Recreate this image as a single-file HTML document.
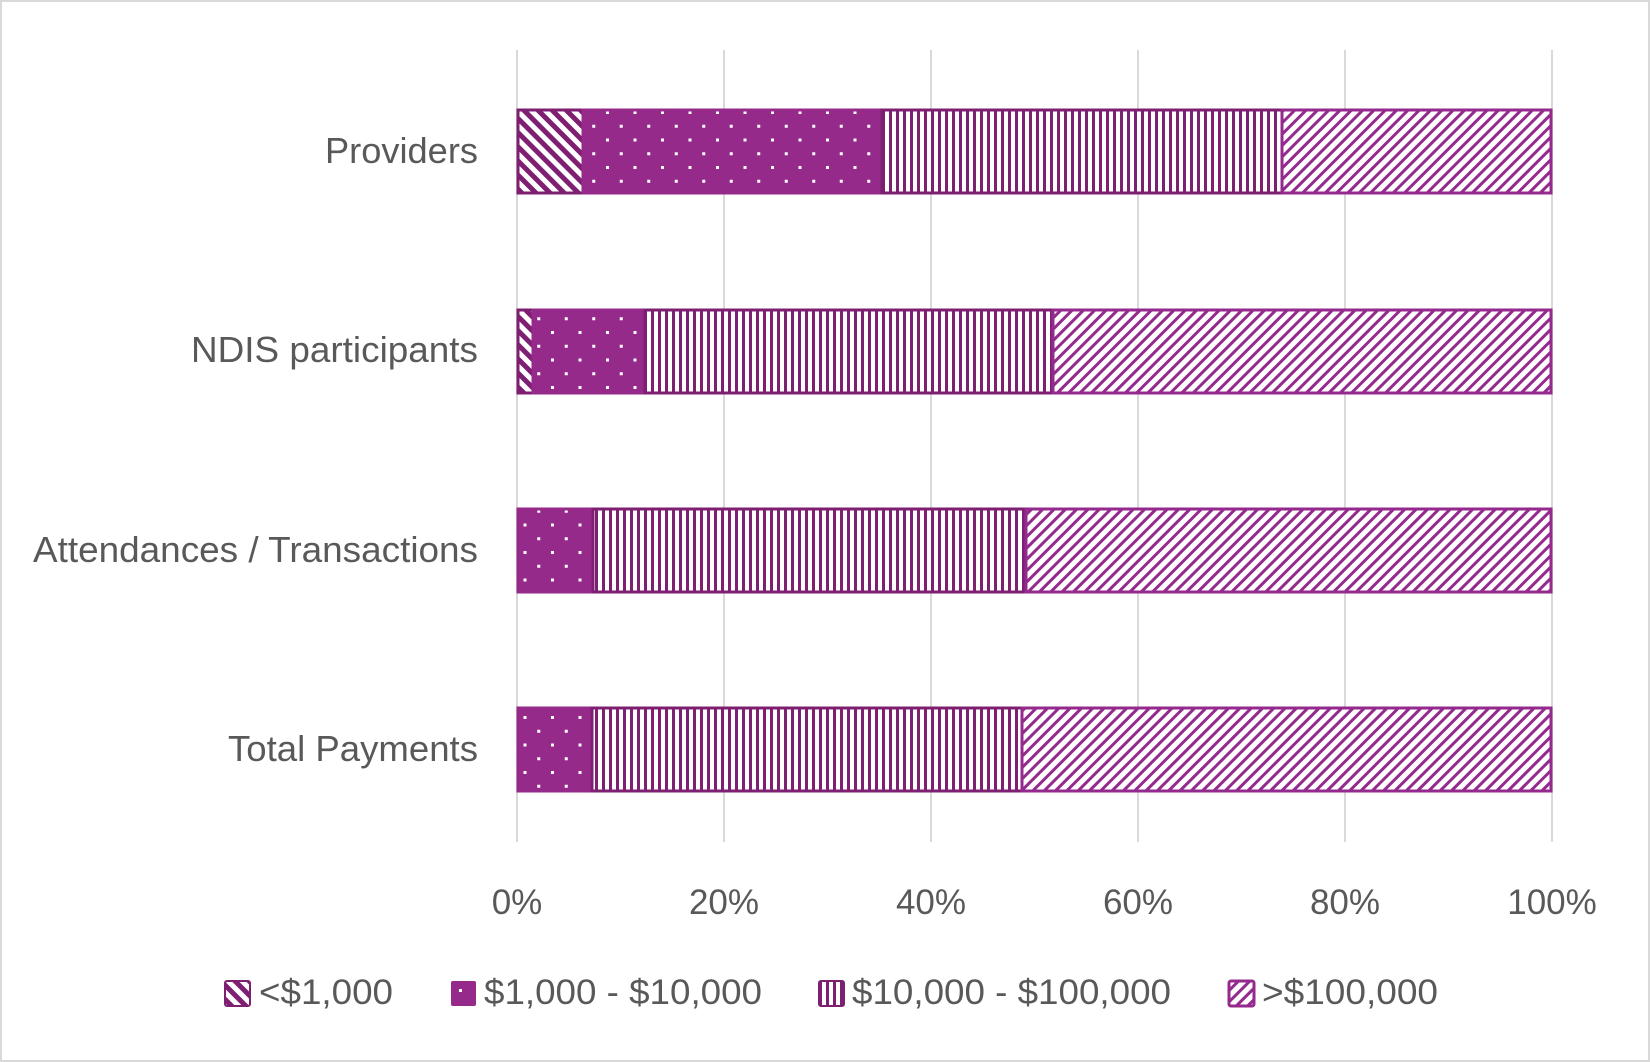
<!DOCTYPE html>
<html><head><meta charset="utf-8"><style>
html,body{margin:0;padding:0;background:#fff}
svg{display:block}
text{font-family:"Liberation Sans",sans-serif;fill:#595959}
</style></head><body>
<svg width="1650" height="1062" viewBox="0 0 1650 1062" xmlns="http://www.w3.org/2000/svg">
<defs>
<pattern id="pDown" width="10" height="10" patternUnits="userSpaceOnUse" patternTransform="rotate(-45)">
<rect width="10" height="10" fill="#fff"/><rect width="5" height="10" fill="#7e1f72"/></pattern>
<pattern id="pDot" width="27.5" height="27.5" patternUnits="userSpaceOnUse">
<rect width="27.5" height="27.5" fill="#952a8a"/>
<rect x="1" y="1" width="3" height="3" fill="#fff"/><rect x="14.75" y="14.75" width="3" height="3" fill="#fff"/></pattern>
<pattern id="pVert" width="7" height="10" patternUnits="userSpaceOnUse">
<rect width="7" height="10" fill="#fff"/><rect width="3" height="10" fill="#7e1f72"/></pattern>
<pattern id="pUp" width="8" height="8" patternUnits="userSpaceOnUse" patternTransform="rotate(45)">
<rect width="8" height="8" fill="#fff"/><rect width="3" height="8" fill="#952a8e"/></pattern>
</defs>
<rect x="1" y="1" width="1648" height="1060" fill="#fff" stroke="#d9d9d9" stroke-width="2"/>
<g stroke="#d9d9d9" stroke-width="2">
<line x1="517" y1="50" x2="517" y2="842"/><line x1="724" y1="50" x2="724" y2="842"/>
<line x1="931" y1="50" x2="931" y2="842"/><line x1="1138" y1="50" x2="1138" y2="842"/>
<line x1="1345" y1="50" x2="1345" y2="842"/><line x1="1552" y1="50" x2="1552" y2="842"/>
</g>
<g stroke-width="3">
<rect x="518" y="110" width="65" height="83" fill="url(#pDown)" stroke="#7e1f72"/>
<rect x="583" y="110" width="299" height="83" fill="url(#pDot)" stroke="#952a8a"/>
<rect x="882" y="110" width="400" height="83" fill="url(#pVert)" stroke="#7e1f72"/>
<rect x="1282" y="110" width="269" height="83" fill="url(#pUp)" stroke="#952a8e"/>
<rect x="518" y="310" width="15" height="83" fill="url(#pDown)" stroke="#7e1f72"/>
<rect x="533" y="310" width="112" height="83" fill="url(#pDot)" stroke="#952a8a"/>
<rect x="645" y="310" width="408" height="83" fill="url(#pVert)" stroke="#7e1f72"/>
<rect x="1053" y="310" width="498" height="83" fill="url(#pUp)" stroke="#952a8e"/>
<rect x="518" y="509" width="75" height="83" fill="url(#pDot)" stroke="#952a8a"/>
<rect x="593" y="509" width="433" height="83" fill="url(#pVert)" stroke="#7e1f72"/>
<rect x="1026" y="509" width="525" height="83" fill="url(#pUp)" stroke="#952a8e"/>
<rect x="518" y="708" width="74" height="83" fill="url(#pDot)" stroke="#952a8a"/>
<rect x="592" y="708" width="430" height="83" fill="url(#pVert)" stroke="#7e1f72"/>
<rect x="1022" y="708" width="529" height="83" fill="url(#pUp)" stroke="#952a8e"/>
</g>
<g font-size="36" text-anchor="end">
<text x="478" y="163" textLength="153" lengthAdjust="spacingAndGlyphs">Providers</text>
<text x="478" y="362" textLength="287" lengthAdjust="spacingAndGlyphs">NDIS participants</text>
<text x="478" y="562" textLength="445" lengthAdjust="spacingAndGlyphs">Attendances / Transactions</text>
<text x="478" y="761" textLength="250" lengthAdjust="spacingAndGlyphs">Total Payments</text>
</g>
<g font-size="35" text-anchor="middle">
<text x="517" y="914">0%</text><text x="724" y="914">20%</text><text x="931" y="914">40%</text>
<text x="1138" y="914">60%</text><text x="1345" y="914">80%</text><text x="1552" y="914">100%</text>
</g>
<g font-size="35">
<rect x="225" y="981" width="25" height="25" rx="2" fill="url(#pDown)" stroke="#7e1f72" stroke-width="2"/>
<text x="259" y="1004" textLength="134" lengthAdjust="spacingAndGlyphs">&lt;$1,000</text>
<rect x="451" y="981" width="25" height="25" rx="2" fill="#952a8a"/>
<rect x="459" y="989" width="3" height="3" fill="#fff"/>
<text x="484" y="1004" textLength="278" lengthAdjust="spacingAndGlyphs">$1,000 - $10,000</text>
<rect x="819" y="981" width="25" height="25" rx="2" fill="url(#pVert)" stroke="#7e1f72" stroke-width="2"/>
<text x="852" y="1004" textLength="319" lengthAdjust="spacingAndGlyphs">$10,000 - $100,000</text>
<rect x="1229" y="981" width="25" height="25" rx="2" fill="url(#pUp)" stroke="#952a8e" stroke-width="3"/>
<text x="1262" y="1004" textLength="176" lengthAdjust="spacingAndGlyphs">&gt;$100,000</text>
</g>
</svg>
</body></html>
